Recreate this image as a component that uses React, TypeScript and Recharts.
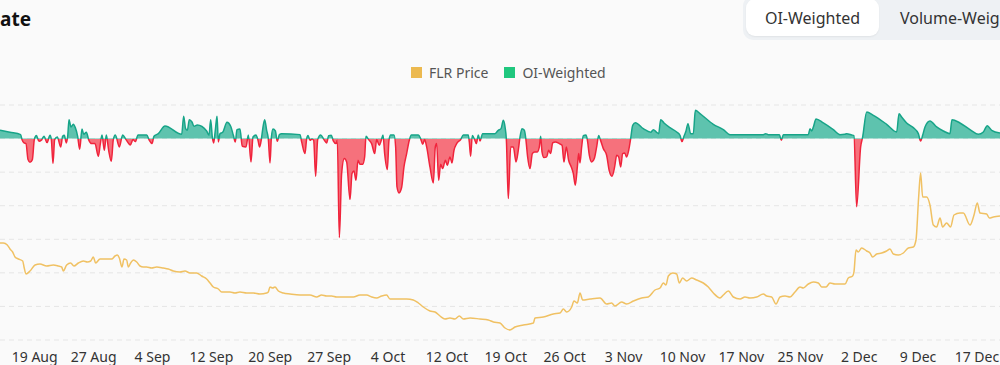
import React from 'react';
import { ComposedChart, Area, Line, XAxis, YAxis, CartesianGrid } from 'recharts';

// x values are day offsets from 19 Aug (axis ticks every 7.5 days on the source's index scale)
const tickLabels = ['19 Aug', '27 Aug', '4 Sep', '12 Sep', '20 Sep', '27 Sep', '4 Oct', '12 Oct', '19 Oct', '26 Oct', '3 Nov', '10 Nov', '17 Nov', '25 Nov', '2 Dec', '9 Dec', '17 Dec'];
const tickDays = [0, 7.5, 15, 22.5, 30, 37.5, 45, 52.5, 60, 67.5, 75, 82.5, 90, 97.5, 105, 112.5, 120];
const gridTicks = [0, 1, 2, 3, 4, 5, 6, 7];

// OI-weighted funding rate (%), [day, rate]
const fundingSeries: [number, number][] = [
  [-4.42, 0.0025], [-3.15, 0.0019], [-1.79, 0.0012], [-1.62, -0.0003], [-1.36, -0.0013], [-1.11, -0.0015], [-0.85, -0.0063], [-0.6, -0.0071], [-0.3, -0.0063], [-0.05, -0.0003],
  [0.21, 0.0009], [0.55, -0.0008], [0.84, -0.0005], [1.18, 0.0007], [1.57, -0.0012], [1.95, 0.001], [2.12, -0.0003], [2.33, -0.0075], [2.54, -0.0003], [2.88, 0.0005],
  [3.31, -0.0025], [3.56, 0.0007], [3.77, 0.001], [4.03, -0.0013], [4.2, 0.0007], [4.37, 0.0057], [4.62, 0.0035], [4.92, 0.0043], [5.17, 0.0033], [5.47, 0.0007],
  [5.73, -0.0032], [6.02, 0.0029], [6.24, 0.0013], [6.58, 0.0019], [6.87, -0.0003], [7.25, -0.0015], [7.68, -0.0015], [8.1, -0.0053], [8.36, -0.0015], [8.57, 0.0011],
  [8.87, -0.0035], [9.12, 0.0011], [9.42, -0.0035], [9.76, -0.0068], [10.01, -0.0003], [10.27, 0.0011], [10.78, -0.0025], [11.2, 0.0011], [11.63, -0.0003], [12.18, -0.0019],
  [12.52, -0.0003], [12.82, -0.0009], [13.16, 0.0011], [14.26, 0.0011], [14.6, -0.0005], [14.94, -0.0015], [15.19, 0.0007], [15.74, 0.0015], [16.59, 0.0038], [18.72, 0.0013],
  [18.97, 0.0067], [19.22, 0.003], [19.44, 0.0025], [19.69, 0.0057], [20.03, 0.005], [20.29, 0.0037], [20.71, 0.0041], [21.9, 0.0023], [22.2, 0.001], [22.41, 0.0057],
  [22.62, 0.0005], [22.79, -0.0013], [23.0, 0.0025], [23.22, 0.0067], [23.39, -0.001], [23.6, 0.0015], [23.94, 0.0019], [24.49, 0.0049], [24.96, 0.0037], [25.3, 0.001],
  [25.55, -0.001], [25.76, 0.0027], [26.14, 0.0029], [26.44, -0.0023], [26.91, -0.0025], [27.21, 0.0011],
  [27.55, -0.007], [27.8, 0.0005], [28.18, 0.0011], [28.44, -0.0005], [28.65, -0.0025], [28.86, -0.0003], [29.03, 0.0027], [29.29, 0.0057], [29.54, 0.0025], [29.75, 0],
  [29.97, -0.0073], [30.14, 0.0003], [30.35, 0.0029], [30.65, 0.0023], [30.9, -0.0008], [31.16, 0.0012], [31.45, 0.0015], [33.79, 0.0012], [34.0, -0.001], [34.42, -0.0045],
  [34.64, 0], [34.81, 0.0009], [35.06, -0.0005], [35.32, -0.0001], [35.53, -0.0005], [35.78, -0.0113], [36.04, -0.0003], [36.42, 0.0011], [36.84, -0.0003], [37.18, -0.0013],
  [37.44, 0.0009], [37.78, 0.001], [38.03, -0.0007], [38.37, -0.0015], [38.54, -0.0005], [38.8, -0.0297], [39.09, -0.0105], [39.43, -0.006], [39.73, -0.007], [40.16, -0.0183],
  [40.41, -0.0105], [40.66, -0.0097], [40.92, -0.0125], [41.17, -0.0065], [41.43, -0.0077], [41.77, -0.0077], [42.02, -0.0055], [42.19, 0.0007], [42.53, -0.0003], [42.91, -0.0015],
  [43.3, -0.0045], [43.55, -0.0003], [43.89, -0.002], [44.14, -0.0005], [44.36, 0.0011], [44.57, -0.0045], [44.91, -0.0093], [45.12, -0.0005], [45.33, 0.0011], [45.76, 0.0011],
  [45.97, -0.0025], [46.14, -0.0145], [46.4, -0.0163], [46.73, -0.0147], [47.03, -0.0085], [47.37, -0.0045], [47.71, -0.0005], [47.97, 0.0011], [48.86, 0.0011], [49.15, 0],
  [49.41, -0.0017], [49.66, -0.0003], [49.92, -0.0025], [50.34, -0.0085], [50.77, -0.0133], [51.02, -0.0025], [51.19, -0.0015], [51.45, -0.0125], [51.7, -0.0077], [51.96, -0.009],
  [52.3, -0.0065], [52.55, -0.008], [52.89, -0.0055], [53.14, -0.0073], [53.4, -0.0035], [53.74, -0.0015], [54.25, -0.0003], [54.59, 0.0011], [55.22, 0.0011], [55.35, -0.001],
  [55.52, -0.0053], [55.73, 0.0009], [56.03, -0.0003], [56.24, -0.0015], [56.5, 0.0011], [56.71, -0.0007], [57.05, 0.0015], [58.62, 0.0015], [59.04, 0.0025],
  [59.39, 0.003], [59.68, 0.0055], [59.9, 0.0035], [60.07, -0.0003], [60.32, -0.018], [60.62, -0.0025], [60.96, -0.0025], [61.3, -0.007], [61.59, -0.0035], [61.81, 0.0005],
  [62.06, 0.003], [62.36, 0.0025], [62.57, -0.0005], [62.78, -0.0055], [63.08, -0.009], [63.38, -0.0045], [63.67, -0.004], [64.01, -0.004], [64.27, -0.0025], [64.44, 0.0007],
  [64.61, -0.004], [64.86, -0.0057], [65.2, -0.0055], [65.46, -0.0035], [65.71, -0.0045], [65.97, -0.0013], [66.31, -0.001], [66.82, -0.0015], [67.16, -0.002], [67.41, -0.007],
  [67.71, -0.0025], [68.0, -0.0065], [68.34, -0.0085], [68.6, -0.0105], [68.85, -0.014], [69.11, -0.0085], [69.28, -0.0045], [69.45, -0.0073], [69.66, -0.0025], [69.87, 0.0009],
  [70.21, 0.0011], [70.38, -0.0003], [70.64, -0.005], [70.93, -0.007], [71.27, -0.006], [71.57, -0.0025], [71.83, 0.0009], [72.04, -0.0003], [72.42, -0.003], [72.84, -0.005],
  [73.18, -0.0097], [73.52, -0.0113], [73.86, -0.0085], [74.12, -0.005], [74.37, -0.0055], [74.63, -0.0085], [74.88, -0.0045], [75.14, -0.0043], [75.39, -0.0055], [75.65, -0.0035],
  [75.9, 0], [76.16, 0.004], [76.5, 0.0048], [77.51, 0.003], [78.45, 0.0019], [78.79, 0.0027], [79.21, 0.0019], [79.47, 0.0015], [79.72, 0.0057], [80.15, 0.0047],
  [80.91, 0.0033], [81.76, 0.002], [82.18, 0.001], [82.44, -0.0009], [82.69, 0.0007], [82.95, 0.0023], [83.2, 0.0045], [83.54, 0.0015], [83.88, 0.0015], [84.14, 0.0085],
  [84.73, 0.0075], [86.43, 0.0043], [87.7, 0.0027], [88.55, 0.0012], [91.1, 0.0012],
  [92.8, 0.0012], [93.1, 0.0015], [93.43, 0.0012], [94.84, 0.0012], [95.09, -0.0005], [95.35, 0.0012], [98.53, 0.0012], [98.74, 0.003], [98.95, 0.0023], [99.17, 0.0035],
  [99.51, 0.0059], [100.44, 0.0047], [101.71, 0.0027], [102.56, 0.0012], [103.16, 0.0013], [103.41, 0.0015], [104.05, 0.0011], [104.34, 0.0009], [104.68, -0.0205], [105.19, -0.0025],
  [105.45, 0.0005], [105.96, 0.008], [106.81, 0.007], [108.5, 0.0043], [109.78, 0.002], [110.08, 0.0075], [110.41, 0.0065], [111.05, 0.0047], [111.9, 0.0033], [112.54, 0.0015],
  [112.83, -0.0007], [113.09, 0.001], [113.39, 0.0035], [114.02, 0.0053], [114.87, 0.0035], [115.72, 0.0023], [116.57, 0.0015], [116.82, 0.0057], [117.84, 0.0047], [119.12, 0.0027],
  [120.18, 0.0013], [120.82, 0.002], [121.32, 0.0039], [121.88, 0.0025], [122.94, 0.0017],
];

// FLR price (USD), [day, price]
const priceSeries: [number, number][] = [
  [-4.42, 0.0197], [-4.0, 0.0197], [-3.49, 0.0195], [-3.15, 0.0191], [-2.81, 0.0188], [-2.51, 0.0183], [-2.08, 0.0181], [-1.53, 0.0179], [-1.36, 0.0173], [-1.11, 0.0166],
  [-0.6, 0.0169], [0.04, 0.0175], [0.67, 0.0176], [1.52, 0.0174], [2.37, 0.0175], [3.01, 0.0174], [3.43, 0.0173], [3.65, 0.0169], [4.07, 0.0175], [4.58, 0.0177],
  [5.0, 0.0174], [5.56, 0.0177], [6.19, 0.0179], [6.7, 0.0178], [7.13, 0.0179], [7.47, 0.0183], [7.76, 0.0177], [8.32, 0.0181], [9.08, 0.0181], [9.8, 0.0181],
  [10.23, 0.0184], [10.52, 0.0185], [10.78, 0.0182], [11.12, 0.0173], [11.37, 0.0181], [11.71, 0.018], [11.92, 0.0173], [12.22, 0.0177], [12.56, 0.018], [12.99, 0.0178],
  [13.41, 0.0174], [13.83, 0.0173], [14.26, 0.0173], [14.9, 0.0172], [15.53, 0.0173], [16.38, 0.0172], [17.02, 0.0171], [17.65, 0.0169], [18.5, 0.0168], [19.14, 0.0169],
  [19.78, 0.0167], [20.63, 0.0167], [21.26, 0.0164], [21.9, 0.0161], [22.33, 0.0157], [22.75, 0.0153], [23.39, 0.0151], [23.81, 0.0148], [24.87, 0.0148], [25.51, 0.0147],
  [26.14, 0.0148], [26.99, 0.0147], [27.84, 0.0147], [28.69, 0.0146], [29.54, 0.0147], [29.75, 0.0148], [29.97, 0.0153], [30.31, 0.0152], [30.6, 0.0153], [31.03, 0.0149],
  [31.66, 0.0147], [32.51, 0.0146], [33.79, 0.0145], [35.06, 0.0145], [35.91, 0.0143], [36.54, 0.0145], [37.18, 0.0144], [37.82, 0.0144], [38.46, 0.0143], [39.3, 0.0143],
  [40.58, 0.0143], [41.43, 0.0145], [42.28, 0.0145], [42.92, 0.0143], [43.55, 0.0142], [44.19, 0.0144], [44.82, 0.0145], [45.25, 0.0141], [46.1, 0.0141], [47.37, 0.0141],
  [48.22, 0.014], [48.86, 0.0137], [49.49, 0.0133], [50.34, 0.0129], [50.98, 0.0128], [51.62, 0.0124], [52.25, 0.0121], [52.89, 0.0122], [53.52, 0.0121], [54.08, 0.0124],
  [54.59, 0.0121], [55.44, 0.0122], [56.71, 0.0121], [57.77, 0.012], [58.41, 0.0118], [59.26, 0.0117],
  [59.9, 0.0112], [60.53, 0.011], [61.17, 0.0113], [62.23, 0.0115], [63.51, 0.0117], [63.72, 0.0122], [64.78, 0.0123], [66.05, 0.0126], [66.9, 0.0127], [67.33, 0.0131],
  [67.75, 0.0128], [68.39, 0.0133], [68.68, 0.0139], [69.11, 0.0137], [69.45, 0.0147], [69.79, 0.014], [70.72, 0.0141], [72.0, 0.0142], [72.84, 0.0136], [73.48, 0.0137],
  [73.9, 0.0134], [74.75, 0.0138], [75.39, 0.0136], [76.24, 0.0139], [77.3, 0.0142], [78.15, 0.0143], [79.0, 0.015], [79.64, 0.0152], [80.06, 0.0157], [80.4, 0.0155],
  [80.7, 0.0164], [81.25, 0.0167], [81.76, 0.0166], [82.1, 0.0157], [82.52, 0.0162], [83.03, 0.0159], [83.67, 0.0162], [84.3, 0.016], [85.15, 0.0157], [85.79, 0.0153],
  [86.43, 0.0147], [87.28, 0.0142], [87.7, 0.0145], [88.34, 0.0149], [88.98, 0.0143], [89.83, 0.0141], [90.46, 0.0143], [91.1, 0.0142], [91.95, 0.0143], [92.8, 0.0146],
  [93.22, 0.0144], [93.86, 0.0143], [94.41, 0.0136], [94.92, 0.0143], [95.56, 0.0144], [96.2, 0.0143], [96.83, 0.0148], [97.47, 0.0153], [97.89, 0.0152], [98.53, 0.0156],
  [99.17, 0.0158], [99.8, 0.0157], [100.23, 0.0153], [100.78, 0.0153], [101.29, 0.0157], [101.92, 0.0156], [102.56, 0.0156], [103.2, 0.0156], [103.62, 0.0162], [104.17, 0.0164],
  [104.34, 0.0168], [104.6, 0.019], [104.89, 0.0188], [105.32, 0.0192], [105.96, 0.0189], [106.38, 0.0187], [106.72, 0.0183], [107.23, 0.0186], [107.87, 0.0187], [108.5, 0.0189],
  [108.93, 0.0191], [109.35, 0.0186], [109.99, 0.0185], [110.63, 0.0187], [111.26, 0.0192], [111.9, 0.0193], [112.24, 0.02], [112.58, 0.0243], [112.83, 0.0267], [113.09, 0.0243],
  [113.6, 0.0243], [114.02, 0.0235], [114.45, 0.0215], [114.87, 0.0213], [115.3, 0.0222], [115.63, 0.0213], [116.14, 0.0217], [116.65, 0.0213], [117.08, 0.0225], [117.84, 0.0227],
  [118.27, 0.0227], [119.12, 0.0215], [119.63, 0.0225], [120.05, 0.0237], [120.39, 0.0227], [121.24, 0.0226], [121.58, 0.0222], [122.09, 0.0223], [122.94, 0.0224],
];

const xDomain: [number, number] = [-4.42, 122.94];
const rateDomain: [number, number] = [-0.0605, 0.0101];
const priceDomain: [number, number] = [0.01, 0.0335];

const fundingData = fundingSeries.map(([d, rate]) => ({ d, rate }));
const priceData = priceSeries.map(([d, price]) => ({ d, price }));

const rates = fundingSeries.map((p) => p[1]);
const maxRate = Math.max(...rates);
const minRate = Math.min(...rates);
const zeroOffset = maxRate / (maxRate - minRate);

const FONT = '"Noto Sans", "DejaVu Sans", sans-serif';

export default function App() {
  return (
    <div style={{ position: 'fixed', left: 0, top: 0, width: 1000, height: 365, background: '#fafafa', overflow: 'hidden', fontFamily: FONT }}>
      <div style={{ position: 'absolute', left: 0, top: 5, fontSize: 19, fontWeight: 700, color: '#111', lineHeight: '28px' }}>ate</div>

      <div style={{ position: 'absolute', left: 743, top: -4, width: 300, height: 44, background: '#eef1f4', borderRadius: 10 }} />
      <div style={{ position: 'absolute', left: 746, top: -1, width: 133, height: 37, background: '#ffffff', borderRadius: 9, boxShadow: '0 1px 2px rgba(0,0,0,0.06)', display: 'flex', alignItems: 'center', justifyContent: 'center', fontSize: 16, color: '#333' }}>OI-Weighted</div>
      <div style={{ position: 'absolute', left: 900, top: -1, height: 37, display: 'flex', alignItems: 'center', fontSize: 16, color: '#333', whiteSpace: 'nowrap' }}>Volume-Weighted</div>

      <div style={{ position: 'absolute', left: 411, top: 62, height: 20, display: 'flex', alignItems: 'center', fontSize: 14, color: '#555', whiteSpace: 'nowrap' }}>
        <span style={{ display: 'inline-block', width: 11, height: 11, background: '#ecb94f', marginRight: 7 }} />
        <span>FLR Price</span>
        <span style={{ display: 'inline-block', width: 11, height: 11, background: '#1fc77e', marginLeft: 16, marginRight: 7 }} />
        <span>OI-Weighted</span>
      </div>

      <div style={{ position: 'absolute', left: 0, top: 0 }}>
        <ComposedChart width={1000} height={365} margin={{ top: 105, right: 0, bottom: 0, left: 0 }}>
          <defs>
            <linearGradient id="fundFill" x1="0" y1="0" x2="0" y2="1">
              <stop offset={zeroOffset} stopColor="#5ec3ae" />
              <stop offset={zeroOffset} stopColor="#f6717c" />
            </linearGradient>
            <linearGradient id="fundStroke" x1="0" y1="0" x2="0" y2="1">
              <stop offset={zeroOffset} stopColor="#17a488" />
              <stop offset={zeroOffset} stopColor="#f0243c" />
            </linearGradient>
          </defs>
          <CartesianGrid yAxisId="grid" vertical={false} stroke="#e6e6e6" strokeDasharray="5 4" />
          <XAxis
            type="number"
            dataKey="d"
            domain={xDomain}
            allowDataOverflow
            ticks={tickDays}
            interval={0}
            tickFormatter={(v: number) => tickLabels[tickDays.indexOf(v)] ?? ''}
            height={25}
            axisLine={false}
            tickLine={false}
            tickMargin={6}
            tick={{ fill: '#333', fontSize: 14, fontFamily: FONT }}
          />
          <YAxis yAxisId="grid" hide domain={[0, 7]} ticks={gridTicks} allowDataOverflow />
          <YAxis yAxisId="rate" hide domain={rateDomain} allowDataOverflow />
          <YAxis yAxisId="price" hide domain={priceDomain} allowDataOverflow />
          <Area
            yAxisId="rate"
            data={fundingData}
            dataKey="rate"
            type="monotone"
            baseValue={0}
            stroke="url(#fundStroke)"
            strokeWidth={1.5}
            fill="url(#fundFill)"
            fillOpacity={1}
            dot={false}
            activeDot={false}
            isAnimationActive={false}
          />
          <Line
            yAxisId="price"
            data={priceData}
            dataKey="price"
            type="monotone"
            stroke="#f0c163"
            strokeWidth={1.5}
            dot={false}
            activeDot={false}
            isAnimationActive={false}
          />
        </ComposedChart>
      </div>
    </div>
  );
}
